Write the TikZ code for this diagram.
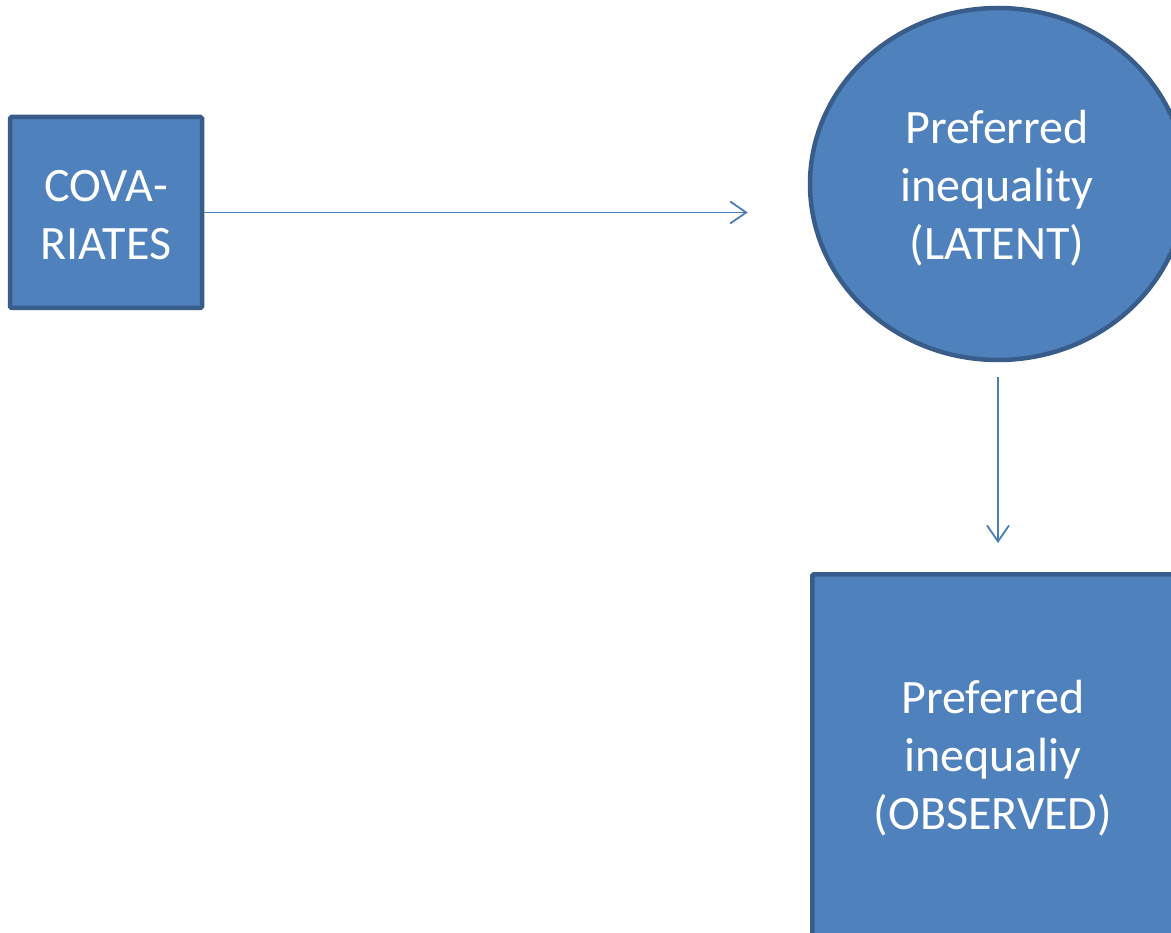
\documentclass[tikz,border=0pt]{standalone}
\usepackage{fontspec}
\setmainfont{Carlito}
\usetikzlibrary{shapes.geometric,arrows.meta}
\definecolor{boxfill}{HTML}{4F81BD}
\definecolor{boxline}{HTML}{385D8A}
\definecolor{arrline}{HTML}{4A7EBB}
\tikzset{
  txt/.style={text=white, align=center, inner sep=0pt,
    font=\fontsize{48pt}{58pt}\selectfont},
  boxnode/.style={draw=boxline, fill=boxfill, line width=4.5pt, rounded corners=1.5pt, txt},
  ellnode/.style={ellipse, draw=boxline, fill=boxfill, line width=4.5pt, txt},
  arr/.style={draw=arrline, line width=1.8pt, -{Straight Barb[length=16pt,width=22pt,line width=1.8pt]}}
}
\begin{document}
\begin{tikzpicture}[x=1pt,y=-1pt]
\useasboundingbox (0,0) rectangle (1171,933);
\clip (0,0) rectangle (1171,933);
\node[boxnode, minimum width=192pt, minimum height=191pt] (cov) at (106,212.5) {};
\node[txt] (covtext) at (106,215) {COVA-\\RIATES};
\node[ellnode, minimum width=376pt, minimum height=352pt] (lat) at (998,184) {};
\node[txt] (lattext) at (997,188) {Preferred\\inequality\\(LATENT)};
\node[boxnode, minimum width=364pt, minimum height=372pt, anchor=north west] (obs) at (810,572) {};
\node[txt] (obstext) at (993,758) {Preferred\\inequaliy\\(OBSERVED)};
\draw[arr, shorten >=60pt] (cov.east) -- (cov.east -| lat.west);
\draw[arr, shorten <=15pt, shorten >=29pt] (lat.south) -- (lat.south |- obs.north);
\end{tikzpicture}
\end{document}
